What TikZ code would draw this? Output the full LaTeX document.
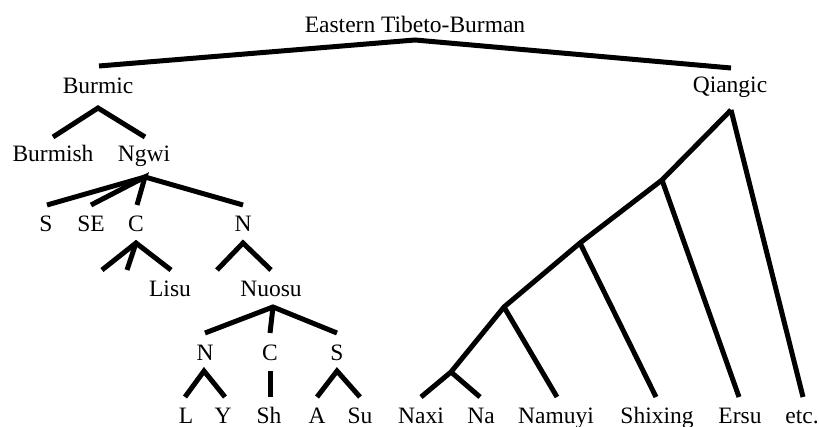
\documentclass[tikz,border=0pt]{standalone}
\usepackage{fontspec}
\setmainfont{Liberation Serif}
\begin{document}
\begin{tikzpicture}[x=1pt,y=-1pt,
  lab/.style={anchor=base, inner sep=0pt, font=\fontsize{23.5}{28}\selectfont},
  br/.style={line width=5pt}]
\useasboundingbox (0,0) rectangle (819,427);
% labels
\node[lab] (etb) at (415,33) {Eastern Tibeto-Burman};
\node[lab] (burmic) at (98,94) {Burmic};
\node[lab] (qiangic) at (730,93) {Qiangic};
\node[lab] (burmish) at (53,162) {Burmish};
\node[lab] (ngwi) at (144,162) {Ngwi};
\node[lab] (ns) at (46,232) {S};
\node[lab] (nse) at (91,232) {SE};
\node[lab] (nc) at (136,232) {C};
\node[lab] (nn) at (243,232) {N};
\node[lab] (lisu) at (170,297) {Lisu};
\node[lab] (nuosu) at (271,297) {Nuosu};
\node[lab] (un) at (205,361) {N};
\node[lab] (uc) at (270,361) {C};
\node[lab] (us) at (337,361) {S};
\node[lab] (l) at (186,423) {L};
\node[lab] (y) at (223,423) {Y};
\node[lab] (sh) at (269,423) {Sh};
\node[lab] (a) at (317,423) {A};
\node[lab] (su) at (360,423) {Su};
\node[lab] (naxi) at (421,423) {Naxi};
\node[lab] (na) at (481,423) {Na};
\node[lab] (namuyi) at (556,423) {Namuyi};
\node[lab] (shixing) at (657,423) {Shixing};
\node[lab] (ersu) at (740,423) {Ersu};
\node[lab] (etc) at (802,423) {etc.};
% junction coordinates
\coordinate (r0) at (415,40);
\coordinate (r0l) at (99,66);
\coordinate (r0r) at (731,68);
\coordinate (bA) at (98,108);
\coordinate (bAl) at (53,137);
\coordinate (bAr) at (145,137);
\coordinate (gA) at (145,177);
\coordinate (gA1) at (47,205);
\coordinate (gA2) at (91,205);
\coordinate (gA3) at (137,205);
\coordinate (gA4) at (243,205);
\coordinate (cA) at (136,243);
\coordinate (cA1) at (102,270);
\coordinate (cA2) at (127,270);
\coordinate (cA3) at (171,270);
\coordinate (nA) at (243,243);
\coordinate (nA1) at (217,270);
\coordinate (nA2) at (271,270);
\coordinate (uA) at (273,307);
\coordinate (uA1) at (205,333);
\coordinate (uA2) at (270,333);
\coordinate (uA3) at (337,333);
\coordinate (unA) at (204,371);
\coordinate (unA1) at (185,397);
\coordinate (unA2) at (225,397);
\coordinate (ucA) at (270,371);
\coordinate (ucA1) at (270,397);
\coordinate (usA) at (337,371);
\coordinate (usA1) at (317,397);
\coordinate (usA2) at (360,397);
\coordinate (q0) at (731,110);
\coordinate (q1) at (662,180);
\coordinate (q2) at (580,243);
\coordinate (q3) at (504,307);
\coordinate (q4) at (451,372);
\coordinate (qnaxi) at (421,397);
\coordinate (qna) at (480,397);
\coordinate (qnamuyi) at (557,397);
\coordinate (qshixing) at (656,397);
\coordinate (qersu) at (739,397);
\coordinate (qetc) at (803,397);
% branches
\draw[br] (r0l) -- (r0) -- (r0r);
\draw[br] (bAl) -- (bA) -- (bAr);
\draw[br] (gA1) -- (gA) -- (gA4);
\draw[br] (gA2) -- (gA) -- (gA3);
\draw[br] (cA1) -- (cA) -- (cA3);
\draw[br] (cA2) -- (cA);
\draw[br] (nA1) -- (nA) -- (nA2);
\draw[br] (uA1) -- (uA) -- (uA3);
\draw[br] (uA2) -- (uA);
\draw[br] (unA1) -- (unA) -- (unA2);
\draw[br] (ucA) -- (ucA1);
\draw[br] (usA1) -- (usA) -- (usA2);
\draw[br] (q0) -- (q1) -- (q2) -- (q3) -- (q4) -- (qnaxi);
\draw[br] (q4) -- (qna);
\draw[br] (q3) -- (qnamuyi);
\draw[br] (q2) -- (qshixing);
\draw[br] (q1) -- (qersu);
\draw[br] (q0) -- (qetc);
\end{tikzpicture}
\end{document}
